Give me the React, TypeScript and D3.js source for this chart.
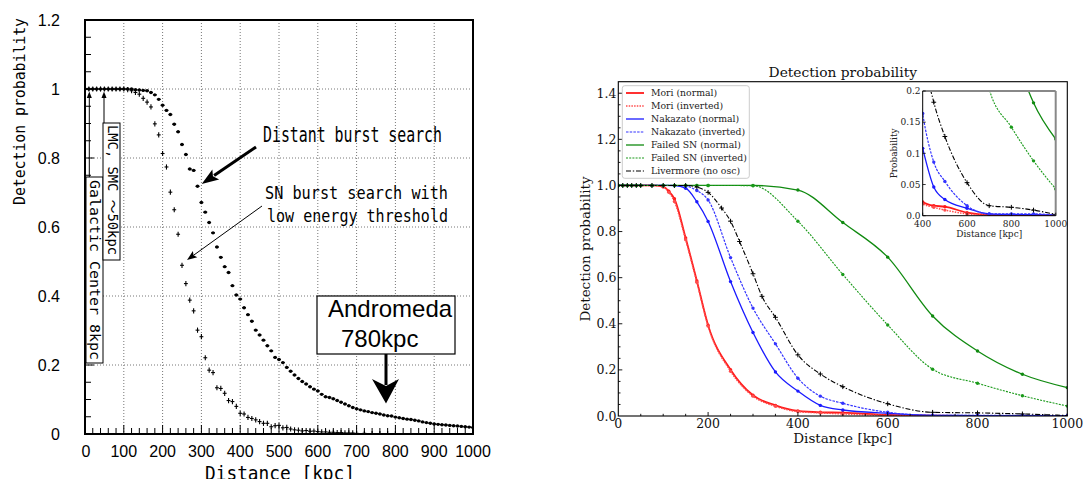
import React from "react";
import * as d3 from "d3";

// ---------- Left panel: measured detection probability ----------
const distantDist = [
  0, 10, 20, 30, 40, 50, 60, 70, 80, 90, 100, 110, 120, 130, 140, 150, 160, 170, 180, 190,
  200, 210, 220, 230, 240, 250, 260, 270, 280, 290, 300, 310, 320, 330, 340, 350, 360, 370, 380, 390,
  400, 410, 420, 430, 440, 450, 460, 470, 480, 490, 500, 510, 520, 530, 540, 550, 560, 570, 580, 590,
  600, 610, 620, 630, 640, 650, 660, 670, 680, 690, 700, 710, 720, 730, 740, 750, 760, 770, 780, 790,
  800, 810, 820, 830, 840, 850, 860, 870, 880, 890, 900, 910, 920, 930, 940, 950, 960, 970, 980, 990, 1000,
];
const distantProb = [
  1, 1, 1, 1, 1, 1, 1, 1, 1, 1, 1, 1, 1, 0.998, 0.997, 0.996, 0.995, 0.99, 0.983, 0.97,
  0.953, 0.938, 0.926, 0.898, 0.876, 0.839, 0.81, 0.768, 0.764, 0.718, 0.671, 0.643, 0.613, 0.583, 0.542, 0.512, 0.485, 0.468, 0.43, 0.403,
  0.391, 0.366, 0.346, 0.327, 0.301, 0.287, 0.272, 0.256, 0.241, 0.222, 0.216, 0.207, 0.193, 0.182, 0.171, 0.161, 0.152, 0.145, 0.137, 0.13,
  0.125, 0.115, 0.108, 0.106, 0.102, 0.097, 0.092, 0.087, 0.082, 0.077, 0.073, 0.07, 0.067, 0.065, 0.062, 0.06, 0.058, 0.055, 0.053, 0.052,
  0.049, 0.047, 0.045, 0.043, 0.042, 0.04, 0.038, 0.035, 0.033, 0.031, 0.029, 0.028, 0.027, 0.026, 0.025, 0.024, 0.023, 0.022, 0.021, 0.02, 0.019,
];
const lowThrDist = [
  0, 10, 20, 30, 40, 50, 60, 70, 80, 90, 100, 110, 120, 130, 140, 150, 160, 170, 180, 190,
  200, 210, 220, 230, 240, 250, 260, 270, 280, 290, 300, 310, 320, 330, 340, 350, 360, 370, 380, 390,
  400, 410, 420, 430, 440, 450, 460, 470, 480, 490, 500, 510, 520, 530, 540, 550, 560, 570, 580, 590,
  600, 610, 620, 630, 640, 650, 660, 670, 680, 690, 700, 720, 740, 760, 780, 800,
];
const lowThrProb = [
  1, 1, 1, 1, 1, 1, 1, 1, 1, 1, 1, 0.998, 0.995, 0.99, 0.985, 0.973, 0.962, 0.948, 0.899, 0.867,
  0.813, 0.774, 0.701, 0.65, 0.579, 0.489, 0.436, 0.388, 0.357, 0.301, 0.282, 0.221, 0.185, 0.178, 0.134, 0.132, 0.118, 0.097, 0.094, 0.08,
  0.06, 0.058, 0.048, 0.045, 0.041, 0.036, 0.031, 0.031, 0.021, 0.024, 0.025, 0.018, 0.019, 0.0145, 0.012, 0.011, 0.009, 0.01, 0.008, 0.0085,
  0.007, 0.006, 0.006, 0.005, 0.005, 0.004, 0.004, 0.003, 0.003, 0.003, 0.002, 0.002, 0.001, 0.001, 0.001, 0.0,
];

const leftXTickValues = [0, 100, 200, 300, 400, 500, 600, 700, 800, 900, 1000];
const leftXTickLabels = ["0", "100", "200", "300", "400", "500", "600", "700", "800", "900", "1000"];
const leftYTickValues = [0, 0.2, 0.4, 0.6, 0.8, 1, 1.2];
const leftYTickLabels = ["0", "0.2", "0.4", "0.6", "0.8", "1", "1.2"];

// ---------- Right panel: model detection curves ----------
const moriDist = [0, 10, 20, 30, 40, 50, 75, 100, 112.5, 125, 150, 175, 200, 250, 300, 350, 400, 450, 500, 600, 700, 800, 900, 1000];
const moriNormalProb = [1, 1, 1, 1, 1, 1, 1, 0.995, 0.975, 0.942, 0.772, 0.586, 0.394, 0.201, 0.09, 0.046, 0.022, 0.016, 0.0145, 0.005, 0.0012, 0.0006, 0.0004, 0.0002];
const moriInvertedProb = [1, 1, 1, 1, 1, 1, 1, 0.993, 0.97, 0.93, 0.765, 0.58, 0.39, 0.194, 0.086, 0.042, 0.019, 0.0135, 0.009, 0.003, 0.0008, 0.0004, 0.0002, 0.0001];

const nakDist = [0, 10, 20, 30, 40, 50, 75, 100, 125, 150, 175, 200, 250, 300, 350, 400, 450, 500, 600, 700, 800, 900, 1000];
const nakNormalProb = [1, 1, 1, 1, 1, 1, 1, 1, 0.999, 0.988, 0.929, 0.844, 0.583, 0.362, 0.191, 0.108, 0.046, 0.026, 0.012, 0.003, 0.002, 0.0015, 0.001];
const nakInvertedProb = [1, 1, 1, 1, 1, 1, 1, 1, 1, 0.997, 0.978, 0.937, 0.687, 0.468, 0.313, 0.164, 0.086, 0.055, 0.016, 0.003, 0.003, 0.003, 0.001];

const failedDist = [0, 10, 20, 30, 40, 50, 75, 100, 125, 150, 175, 200, 300, 400, 500, 600, 700, 800, 900, 1000];
const failedNormalProb = [1, 1, 1, 1, 1, 1, 1, 1, 1, 1, 1, 1, 1, 0.98, 0.839, 0.689, 0.434, 0.282, 0.181, 0.123];
const failedInvertedProb = [1, 1, 1, 1, 1, 1, 1, 1, 1, 1, 1, 1, 0.999, 0.845, 0.614, 0.395, 0.203, 0.142, 0.088, 0.043];

const liverDist = [0, 10, 20, 30, 40, 50, 75, 100, 125, 150, 175, 200, 230, 250, 270, 300, 320, 350, 400, 450, 500, 600, 700, 800, 900, 1000];
const liverProb = [1, 1, 1, 1, 1, 1, 1, 1, 1, 1, 0.993, 0.97, 0.902, 0.845, 0.757, 0.617, 0.519, 0.428, 0.265, 0.182, 0.127, 0.053, 0.016, 0.0135, 0.009, 0.002];

const seriesNames = [
  "Mori (normal)",
  "Mori (inverted)",
  "Nakazato (normal)",
  "Nakazato (inverted)",
  "Failed SN (normal)",
  "Failed SN (inverted)",
  "Livermore (no osc)",
];

const rightXTicks = [0, 200, 400, 600, 800, 1000];
const rightYTicks = [0, 0.2, 0.4, 0.6, 0.8, 1.0, 1.2, 1.4];
const rightYTickLabels = ["0.0", "0.2", "0.4", "0.6", "0.8", "1.0", "1.2", "1.4"];
const insetXTicks = [400, 600, 800, 1000];
const insetYTicks = [0, 0.05, 0.1, 0.15, 0.2];
const insetYTickLabels = ["0.0", "0.05", "0.1", "0.15", "0.2"];

type Series = {
  name: string;
  xs: number[];
  ys: number[];
  color: string;
  dash: string | undefined;
  width: number;
  marker: "dot" | "plus";
};

const series: Series[] = [
  { name: seriesNames[0], xs: moriDist, ys: moriNormalProb, color: "#ff1a1a", dash: undefined, width: 1.8, marker: "dot" },
  { name: seriesNames[1], xs: moriDist, ys: moriInvertedProb, color: "#ff4d4d", dash: "1.5,1.2", width: 1.5, marker: "dot" },
  { name: seriesNames[2], xs: nakDist, ys: nakNormalProb, color: "#1a1aff", dash: undefined, width: 1.3, marker: "dot" },
  { name: seriesNames[3], xs: nakDist, ys: nakInvertedProb, color: "#3333ff", dash: "2.5,1.2", width: 1.2, marker: "dot" },
  { name: seriesNames[4], xs: failedDist, ys: failedNormalProb, color: "#108a10", dash: undefined, width: 1.3, marker: "dot" },
  { name: seriesNames[5], xs: failedDist, ys: failedInvertedProb, color: "#1a9a1a", dash: "2,1.2", width: 1.1, marker: "dot" },
  { name: seriesNames[6], xs: liverDist, ys: liverProb, color: "#000000", dash: "5,1.8,1.4,1.8", width: 1.1, marker: "plus" },
];

// ---------- Layout ----------
const W = 1083;
const H = 479;
const L = { left: 85, right: 473, top: 20, bottom: 434 };
const R = { left: 618.3, right: 1067.3, top: 81.7, bottom: 416 };
const I = { left: 922.7, right: 1055.7, top: 91, bottom: 215.7 };

const gothic = "'DejaVu Sans Mono', 'Noto Sans CJK JP', monospace";
const sans = "'Liberation Sans', Arial, sans-serif";
const serif = "'DejaVu Serif', serif";

function arrow(x1: number, y1: number, x2: number, y2: number, headLen: number, half: number) {
  const dx = x2 - x1;
  const dy = y2 - y1;
  const len = Math.hypot(dx, dy);
  const ux = dx / len;
  const uy = dy / len;
  const bx = x2 - ux * headLen;
  const by = y2 - uy * headLen;
  const nx = -uy;
  const ny = ux;
  const pts = [
    [x2, y2],
    [bx + nx * half, by + ny * half],
    [x2 - ux * headLen * 0.8, y2 - uy * headLen * 0.8],
    [bx - nx * half, by - ny * half],
  ];
  return {
    line: { x1, y1, x2: bx + ux * 2, y2: by + uy * 2 },
    head: pts.map((p) => p.join(",")).join(" "),
  };
}

function Arrow({ x1, y1, x2, y2, headLen, half, width }: any) {
  const a = arrow(x1, y1, x2, y2, headLen, half);
  return (
    <g>
      <line {...a.line} stroke="#000" strokeWidth={width} />
      <polygon points={a.head} fill="#000" />
    </g>
  );
}

function LeftPanel() {
  const x = d3.scaleLinear().domain([0, 1000]).range([L.left, L.right]);
  const y = d3.scaleLinear().domain([0, 1.2]).range([L.bottom, L.top]);
  const xMinor = d3.range(20, 1000, 20);
  const yMinor = d3.range(0.05, 1.2, 0.05);
  const distant = distantDist.map((d, i) => [d, distantProb[i]]);
  const lowThr = lowThrDist.map((d, i) => [d, lowThrProb[i]]);

  return (
    <g>
      <defs>
        <clipPath id="leftClip">
          <rect x={L.left} y={L.top} width={L.right - L.left} height={L.bottom - L.top} />
        </clipPath>
      </defs>
      {/* dotted grid */}
      {leftXTickValues.slice(1, -1).map((v) => (
        <line key={"gx" + v} x1={x(v)} x2={x(v)} y1={L.top} y2={L.bottom} stroke="#777" strokeWidth={1} strokeDasharray="1,2" />
      ))}
      {leftYTickValues.slice(1, -1).map((v) => (
        <line key={"gy" + v} x1={L.left} x2={L.right} y1={y(v)} y2={y(v)} stroke="#777" strokeWidth={1} strokeDasharray="1,2" />
      ))}
      {/* inward ticks */}
      {xMinor.map((v) => {
        const major = v % 100 === 0;
        return <line key={"tx" + v} x1={x(v)} x2={x(v)} y1={L.bottom} y2={L.bottom - (major ? 9 : 6)} stroke="#000" strokeWidth={1} />;
      })}
      {yMinor.map((v, i) => {
        const major = (i + 1) % 4 === 0;
        return <line key={"ty" + i} x1={L.left} x2={L.left + (major ? 9 : 6)} y1={y(v)} y2={y(v)} stroke="#000" strokeWidth={1} />;
      })}

      <g clipPath="url(#leftClip)">
        {/* low energy threshold search: crosses */}
        {lowThr.map(([d, p], i) => (
          <g key={"c" + i} stroke="#000" strokeWidth={1.1}>
            <line x1={x(d - 5)} x2={x(d + 5)} y1={y(p)} y2={y(p)} />
            <line x1={x(d)} x2={x(d)} y1={y(p) - 2.6} y2={y(p) + 2.6} />
          </g>
        ))}
        {/* distant burst search: dots */}
        {distant.map(([d, p], i) => (
          <g key={"d" + i}>
            <line x1={x(d - 5)} x2={x(d + 5)} y1={y(p)} y2={y(p)} stroke="#000" strokeWidth={1.4} />
            <circle cx={x(d)} cy={y(p)} r={1.7} fill="#000" />
          </g>
        ))}
      </g>

      <rect x={L.left} y={L.top} width={L.right - L.left} height={L.bottom - L.top} fill="none" stroke="#000" strokeWidth={2} />

      {/* tick labels */}
      {leftXTickValues.map((v, i) => (
        <text key={"lx" + v} x={i === 0 ? x(v) + 1 : x(v)} y={457} textAnchor="middle" fontFamily={sans} fontSize={16} fill="#000">
          {leftXTickLabels[i]}
        </text>
      ))}
      {leftYTickValues.map((v, i) => (
        <text key={"ly" + v} x={60} y={y(v) + 6} textAnchor="end" fontFamily={sans} fontSize={16} fill="#000">
          {leftYTickLabels[i]}
        </text>
      ))}

      {/* axis titles */}
      <text transform="translate(25,111.5) rotate(-90)" textAnchor="middle" fontFamily={gothic} fontSize={16} textLength={187} lengthAdjust="spacingAndGlyphs">
        Detection probability
      </text>
      <text x={280} y={480} textAnchor="middle" fontFamily={gothic} fontSize={20} textLength={150} lengthAdjust="spacingAndGlyphs">
        Distance [kpc]
      </text>

      {/* Galactic Center and LMC/SMC markers */}
      <line x1={89.3} x2={89.3} y1={177} y2={96} stroke="#000" strokeWidth={1} />
      <polygon points="89.3,91.5 86.8,98 91.8,98" fill="#000" />
      <rect x={86} y={177} width={17} height={186} fill="#fff" stroke="#000" strokeWidth={1} />
      <text transform="translate(89.5,180) rotate(90)" fontFamily={gothic} fontSize={14} textLength={180} lengthAdjust="spacingAndGlyphs">
        Galactic Center 8kpc
      </text>

      <line x1={104} x2={104} y1={123} y2={96} stroke="#000" strokeWidth={1} />
      <polygon points="104,91.5 101.5,98 106.5,98" fill="#000" />
      <rect x={103} y={123} width={17} height={137} fill="#fff" stroke="#000" strokeWidth={1} />
      <text transform="translate(107.8,125) rotate(90)" fontFamily={gothic} fontSize={14} textLength={130} lengthAdjust="spacingAndGlyphs">
        LMC, SMC ～50kpc
      </text>

      {/* burst search annotations */}
      <text x={263} y={141.7} fontFamily={gothic} fontSize={21} textLength={179} lengthAdjust="spacingAndGlyphs">
        Distant burst search
      </text>
      <Arrow x1={256} y1={147} x2={201.7} y2={184} headLen={17} half={6} width={3} />
      <text x={265} y={199.3} fontFamily={gothic} fontSize={17} textLength={183} lengthAdjust="spacingAndGlyphs">
        SN burst search with
      </text>
      <text x={267} y={221.7} fontFamily={gothic} fontSize={17} textLength={181} lengthAdjust="spacingAndGlyphs">
        low energy threshold
      </text>
      <Arrow x1={262} y1={206} x2={187} y2={260} headLen={10} half={3.8} width={1} />

      {/* Andromeda */}
      <rect x={317} y={296} width={138} height={58} fill="#fff" stroke="#000" strokeWidth={1.2} />
      <text x={328} y={317} fontFamily={sans} fontSize={24}>Andromeda</text>
      <text x={341} y={347} fontFamily={sans} fontSize={24}>780kpc</text>
      <line x1={386} x2={386} y1={354} y2={385} stroke="#000" strokeWidth={3} />
      <polygon points="372,379 386,386 399,379 386,403.5" fill="#000" />
    </g>
  );
}

function drawMarker(s: Series, px: number, py: number, key: string, size = 1) {
  if (s.marker === "plus") {
    const h = 2.4 * size;
    return (
      <g key={key} stroke={s.color} strokeWidth={1}>
        <line x1={px - h} x2={px + h} y1={py} y2={py} />
        <line x1={px} x2={px} y1={py - h} y2={py + h} />
      </g>
    );
  }
  return <circle key={key} cx={px} cy={py} r={1.7 * size} fill={s.color} />;
}

function RightPanel() {
  const x = d3.scaleLinear().domain([0, 1000]).range([R.left, R.right]);
  const y = d3.scaleLinear().domain([0, 1.45]).range([R.bottom, R.top]);
  const ix = d3.scaleLinear().domain([400, 1000]).range([I.left, I.right]);
  const iy = d3.scaleLinear().domain([0, 0.2]).range([I.bottom, I.top]);

  const mainLine = d3.line<[number, number]>().x((d) => x(d[0])).y((d) => y(d[1])).curve(d3.curveMonotoneX);
  const insetLine = d3.line<[number, number]>().x((d) => ix(d[0])).y((d) => iy(d[1])).curve(d3.curveMonotoneX);

  const xMinor = d3.range(50, 1000, 50);
  const yMinor = d3.range(0.05, 1.45, 0.05);

  const pts = (s: Series) => s.xs.map((d, i) => [d, s.ys[i]] as [number, number]);

  return (
    <g>
      <defs>
        <clipPath id="rightClip">
          <rect x={R.left} y={R.top} width={R.right - R.left} height={R.bottom - R.top} />
        </clipPath>
        <clipPath id="insetClip">
          <rect x={I.left} y={I.top - 1} width={I.right - I.left} height={I.bottom - I.top + 1} />
        </clipPath>
      </defs>

      <text x={(R.left + R.right) / 2} y={76.7} textAnchor="middle" fontFamily={serif} fontSize={13.8} fill="#111">
        Detection probability
      </text>

      <g clipPath="url(#rightClip)">
        {series.map((s, k) => (
          <g key={"s" + k}>
            <path d={mainLine(pts(s)) || ""} fill="none" stroke={s.color} strokeWidth={s.width} strokeDasharray={s.dash} />
            {pts(s).map((p, i) => drawMarker(s, x(p[0]), y(p[1]), "m" + k + "_" + i))}
          </g>
        ))}
      </g>

      {/* main axes frame and inward ticks */}
      <rect x={R.left} y={R.top} width={R.right - R.left} height={R.bottom - R.top} fill="none" stroke="#000" strokeWidth={1.1} />
      {yMinor.map((v, i) => {
        const major = (i + 1) % 4 === 0;
        return <line key={"rty" + i} x1={R.left} x2={R.left + (major ? 4 : 2.2)} y1={y(v)} y2={y(v)} stroke="#000" strokeWidth={0.9} />;
      })}
      {xMinor.map((v) => {
        const major = v % 200 === 0;
        return <line key={"rtx" + v} x1={x(v)} x2={x(v)} y1={R.bottom} y2={R.bottom - (major ? 4 : 2.2)} stroke="#000" strokeWidth={0.9} />;
      })}
      {rightYTicks.map((v, i) => (
        <text key={"ryl" + i} x={616.5} y={y(v) + 4.5} textAnchor="end" fontFamily={serif} fontSize={12.5} fill="#111">
          {rightYTickLabels[i]}
        </text>
      ))}
      {rightXTicks.map((v) => (
        <text key={"rxl" + v} x={x(v)} y={428.3} textAnchor="middle" fontFamily={serif} fontSize={12.5} fill="#111">
          {String(v)}
        </text>
      ))}
      <text transform="translate(590,249) rotate(-90)" textAnchor="middle" fontFamily={serif} fontSize={13.5} fill="#111">
        Detection probability
      </text>
      <text x={(R.left + R.right) / 2} y={443} textAnchor="middle" fontFamily={serif} fontSize={13.5} fill="#111">
        Distance [kpc]
      </text>

      {/* legend */}
      <rect x={622.3} y={85.7} width={127} height={92.6} rx={2.5} fill="#fff" fillOpacity={0.85} stroke="#cccccc" strokeWidth={1} />
      {series.map((s, k) => {
        const ly = 93 + k * 13;
        return (
          <g key={"lg" + k}>
            <line x1={626} x2={644} y1={ly} y2={ly} stroke={s.color} strokeWidth={s.width} strokeDasharray={s.dash} />
            <text x={651} y={ly + 3.4} fontFamily={serif} fontSize={9.3} fill="#222">
              {s.name}
            </text>
          </g>
        );
      })}

      {/* inset: zoom on the low-probability tail */}
      <rect x={I.left} y={I.top} width={I.right - I.left} height={I.bottom - I.top} fill="#fff" />
      <g clipPath="url(#insetClip)">
        {series.map((s, k) => (
          <g key={"is" + k}>
            <path d={insetLine(pts(s).filter((p) => p[0] >= 300)) || ""} fill="none" stroke={s.color} strokeWidth={s.width} strokeDasharray={s.dash} />
            {pts(s)
              .filter((p) => p[0] >= 400)
              .map((p, i) => drawMarker(s, ix(p[0]), iy(p[1]), "im" + k + "_" + i))}
          </g>
        ))}
      </g>
      <line x1={I.left} x2={I.right} y1={I.top} y2={I.top} stroke="#888" strokeWidth={2} />
      <line x1={I.right} x2={I.right} y1={I.top} y2={I.bottom} stroke="#888" strokeWidth={2} />
      <line x1={I.left} x2={I.left} y1={I.top} y2={I.bottom} stroke="#000" strokeWidth={1} />
      <line x1={I.left} x2={I.right} y1={I.bottom} y2={I.bottom} stroke="#000" strokeWidth={1} />
      {insetYTicks.map((v, i) => (
        <g key={"iyt" + i}>
          <line x1={I.left} x2={I.left + 3} y1={iy(v)} y2={iy(v)} stroke="#000" strokeWidth={0.8} />
          <text x={920.5} y={iy(v) + 3.2} textAnchor="end" fontFamily={serif} fontSize={9} fill="#222">
            {insetYTickLabels[i]}
          </text>
        </g>
      ))}
      {insetXTicks.map((v) => (
        <g key={"ixt" + v}>
          <line x1={ix(v)} x2={ix(v)} y1={I.bottom} y2={I.bottom - 3} stroke="#000" strokeWidth={0.8} />
          <text x={ix(v)} y={226.7} textAnchor="middle" fontFamily={serif} fontSize={9} fill="#222">
            {String(v)}
          </text>
        </g>
      ))}
      <text transform="translate(896.6,153.3) rotate(-90)" textAnchor="middle" fontFamily={serif} fontSize={9} fill="#222">
        Probability
      </text>
      <text x={(I.left + I.right) / 2} y={236.7} textAnchor="middle" fontFamily={serif} fontSize={9} fill="#222">
        Distance [kpc]
      </text>
    </g>
  );
}

export default function App() {
  return (
    <div style={{ position: "absolute", left: 0, top: 0, width: W, height: H, background: "#fff" }}>
      <svg width={W} height={H} viewBox={`0 0 ${W} ${H}`} style={{ display: "block" }}>
        <rect x={0} y={0} width={W} height={H} fill="#fff" />
        <LeftPanel />
        <RightPanel />
      </svg>
    </div>
  );
}
